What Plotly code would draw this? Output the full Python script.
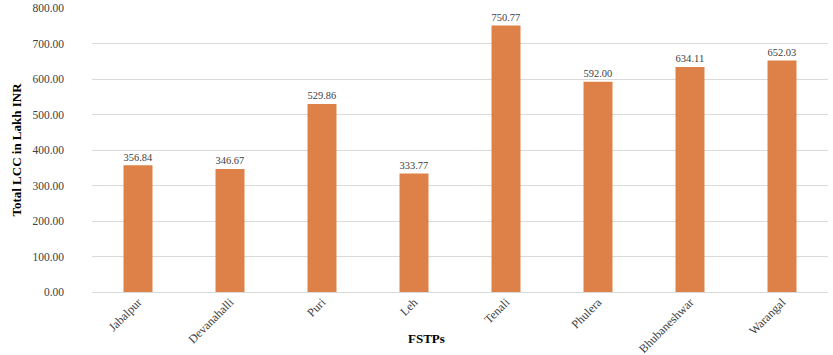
import plotly.graph_objects as go

# Total life-cycle cost per faecal sludge treatment plant
fstps = ["Jabalpur", "Devanahalli", "Puri", "Leh", "Tenali", "Phulera", "Bhubaneshwar", "Warangal"]
lcc_lakh_inr = [356.84, 346.67, 529.86, 333.77, 750.77, 592.00, 634.11, 652.03]
y_ticks = [0, 100, 200, 300, 400, 500, 600, 700, 800]

FONT = "Liberation Serif"

fig = go.Figure(
    go.Bar(
        x=fstps,
        y=lcc_lakh_inr,
        marker=dict(color="#DD8149", line=dict(width=0)),
        text=[f"{v:.2f}" for v in lcc_lakh_inr],
        textposition="outside",
        textfont=dict(family=FONT, size=11.5, color="#404040"),
        cliponaxis=False,
    )
)

fig.update_layout(
    width=833,
    height=355,
    margin=dict(l=92, r=5, t=8, b=63),
    paper_bgcolor="white",
    plot_bgcolor="white",
    bargap=0.685,
    showlegend=False,
    font=dict(family=FONT, size=11, color="#404040"),
    annotations=[
        dict(
            text="<b>FSTPs</b>",
            xref="paper", yref="paper",
            x=0.455, y=-0.162,
            xanchor="center", yanchor="middle",
            showarrow=False,
            font=dict(family=FONT, size=13, color="black"),
        )
    ],
)

fig.update_xaxes(
    automargin=False,
    tickangle=-45,
    tickfont=dict(family=FONT, size=12, color="#404040"),
    showgrid=False,
    showline=False,
    ticks="",
)

fig.update_yaxes(
    automargin=False,
    range=[0, 800],
    tickvals=y_ticks,
    ticktext=[f"{v:.2f}" for v in y_ticks],
    tickfont=dict(family=FONT, size=11.5, color="#404040"),
    showgrid=True,
    gridcolor="#D9D9D9",
    gridwidth=1,
    zeroline=True,
    zerolinecolor="#D9D9D9",
    zerolinewidth=1,
    ticks="",
    ticklabelstandoff=27,
    title=dict(text="<b>Total LCC in Lakh INR</b>", font=dict(family=FONT, size=13, color="black"), standoff=7),
)

fig.write_html("out.html")
